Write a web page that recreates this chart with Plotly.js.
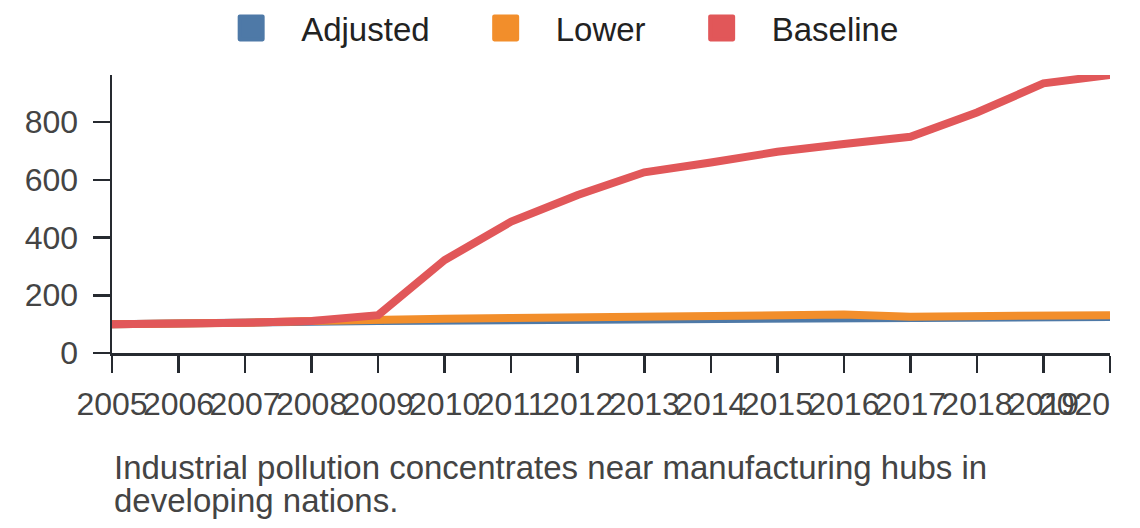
<!DOCTYPE html>
<html>
<head>
<meta charset="utf-8">
<script src="https://cdn.plot.ly/plotly-3.0.1.min.js"></script>
<style>
  html, body { margin: 0; padding: 0; background: #fff; }
  #chart { width: 1140px; height: 528px; }
</style>
</head>
<body>
<div id="chart"></div>
<script>
var years = [2005, 2006, 2007, 2008, 2009, 2010, 2011, 2012, 2013, 2014, 2015, 2016, 2017, 2018, 2019, 2020]
var adjusted = [100, 101, 104, 108, 111, 112, 114, 116, 118, 120, 122, 118, 119, 121, 123, 125]
var lower = [100, 100, 105, 111, 118, 119, 121, 124, 125, 127, 128, 133, 126, 126, 129, 131]
var baseline = [100, 101, 105, 111, 131, 322, 455, 547, 626, 660, 697, 724, 749, 833, 934, 963]
var seriesNames = ['Adjusted', 'Lower', 'Baseline']
var colores = ['#4e79a7', '#f28e2b', '#e15759']
var yTicks = [0, 200, 400, 600, 800]
var captionLines = ['Industrial pollution concentrates near manufacturing hubs in', 'developing nations.']

var NB = '\u00a0'
var valores = [adjusted, lower, baseline]
var data = []

// las lineas, sin leyenda
for (let i = 0; i < valores.length; i++) {
    data.push({
        x: years,
        y: valores[i],
        mode: 'lines',
        type: 'scatter',
        name: seriesNames[i],
        showlegend: false,
        hoverinfo: 'skip',
        line: { color: colores[i], width: 8 }
    })
}

// cuadrados de la leyenda (entradas vacias)
for (let i = 0; i < seriesNames.length; i++) {
    data.push({
        x: [null],
        y: [null],
        mode: 'markers',
        type: 'scatter',
        name: seriesNames[i] + NB.repeat(2) + '\u200a',
        marker: { symbol: 'square', size: 16, color: colores[i], line: { color: colores[i], width: 3 } }
    })
}

// la ultima etiqueta se corre a la izquierda para que quepa
var tickText = years.map(function (y, i) {
    return i == years.length - 1 ? String(y) + NB.repeat(8) : String(y)
})

var fuente = 'Liberation Sans, Arial, sans-serif'

var anotaciones = captionLines.map(function (t, i) {
    return {
        text: t,
        xref: 'paper', yref: 'paper',
        x: 0, y: (353 - 467 - 33 * i) / 278,
        xanchor: 'left', yanchor: 'middle',
        align: 'left',
        showarrow: false,
        font: { family: fuente, size: 33, color: '#444' }
    }
})

var layout = {
    width: 1140,
    height: 528,
    margin: { l: 112, r: 30, t: 75, b: 175 },
    paper_bgcolor: '#fff',
    plot_bgcolor: '#fff',
    font: { family: fuente, color: '#444', size: 32 },
    showlegend: true,
    legend: {
        orientation: 'h',
        xref: 'container', yref: 'container',
        x: 0.494, xanchor: 'center',
        y: 1.0, yanchor: 'top',
        itemwidth: 90,
        traceorder: 'normal',
        font: { family: fuente, size: 33, color: '#222' }
    },
    xaxis: {
        range: [2005, 2020],
        tickvals: years,
        ticktext: tickText,
        tickangle: 0,
        ticklabeloverflow: 'allow',
        ticks: 'outside',
        ticklen: 17,
        tickwidth: 2.5,
        tickcolor: '#262a30',
        showline: true,
        linewidth: 2.5,
        linecolor: '#262a30',
        showgrid: false,
        zeroline: false,
        ticklabelstandoff: 4,
        tickfont: { family: fuente, size: 32, color: '#444' }
    },
    yaxis: {
        range: [0, 963],
        tickvals: yTicks,
        ticks: 'outside',
        ticklen: 17,
        tickwidth: 2.5,
        tickcolor: '#262a30',
        showline: true,
        linewidth: 2.5,
        linecolor: '#262a30',
        showgrid: false,
        zeroline: false,
        ticklabelstandoff: 8,
        tickfont: { family: fuente, size: 32, color: '#444' }
    },
    annotations: anotaciones
}

Plotly.newPlot('chart', data, layout, { displayModeBar: false, staticPlot: true }).then(function (gd) {
    // agrandar los cuadrados de la leyenda
    gd.querySelectorAll('.legendpoints path.scatterpts').forEach(function (p) {
        var t = p.getAttribute('transform') || ''
        p.setAttribute('transform', t + ' scale(1.42)')
        p.style.strokeLinejoin = 'round'
    })
})
</script>
</body>
</html>
